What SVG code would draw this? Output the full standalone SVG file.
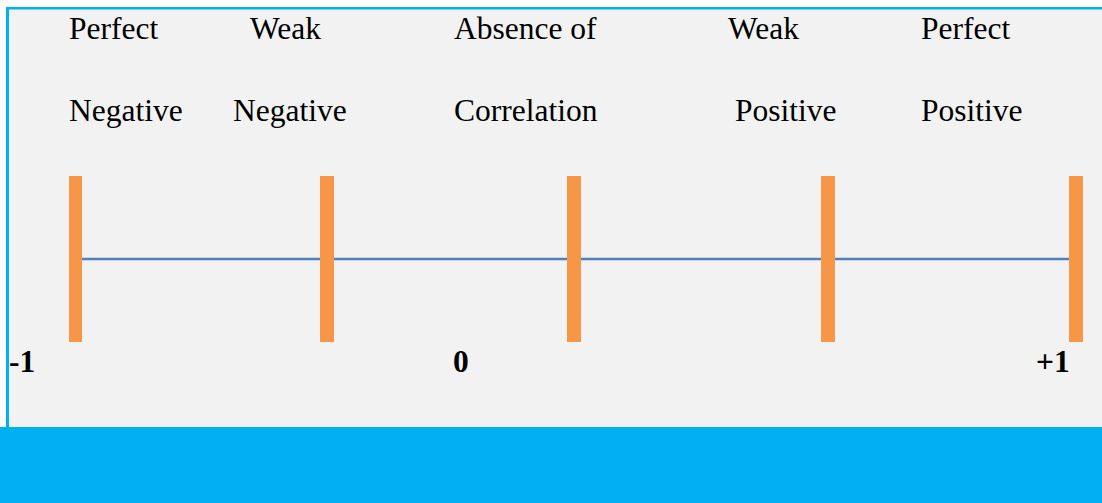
<svg xmlns="http://www.w3.org/2000/svg" width="1102" height="503" viewBox="0 0 1102 503">
<style>
.lbl{font-family:"Liberation Serif","Times New Roman",serif;font-size:31.5px;fill:#000}
.num{font-family:"Liberation Serif","Times New Roman",serif;font-size:31.5px;font-weight:bold;fill:#000}
.bar{fill:#f79646}
</style>
<rect x="0" y="0" width="1102" height="503" fill="#ffffff"/>
<rect x="6" y="7" width="1096" height="420" fill="#f2f2f2"/>
<rect x="6" y="7" width="1096" height="2.5" fill="#00b0f0"/>
<rect x="6" y="7" width="3" height="420" fill="#00b0f0"/>
<rect x="0" y="427" width="1102" height="76" fill="#00b0f0"/>
<g id="connectors">
<line x1="82" y1="259" x2="1069" y2="259" stroke="#4f81bd" stroke-width="2.5"/>
</g>
<g id="perfect-negative">
<rect class="bar" x="69" y="176" width="13" height="166"/>
<text class="lbl" x="69" y="39">Perfect</text>
<text class="lbl" x="69" y="121">Negative</text>
</g>
<g id="weak-negative">
<rect class="bar" x="320" y="176" width="14" height="166"/>
<text class="lbl" x="250" y="39">Weak</text>
<text class="lbl" x="233" y="121">Negative</text>
</g>
<g id="absence">
<rect class="bar" x="567" y="176" width="14" height="166"/>
<text class="lbl" x="454" y="39">Absence of</text>
<text class="lbl" x="454" y="121">Correlation</text>
</g>
<g id="weak-positive">
<rect class="bar" x="821" y="176" width="14" height="166"/>
<text class="lbl" x="728" y="39">Weak</text>
<text class="lbl" x="735" y="121">Positive</text>
</g>
<g id="perfect-positive">
<rect class="bar" x="1069" y="176" width="14" height="166"/>
<text class="lbl" x="921" y="39">Perfect</text>
<text class="lbl" x="921" y="121">Positive</text>
</g>
<g id="scale">
<text class="num" x="9" y="372">-1</text>
<text class="num" x="453" y="372">0</text>
<text class="num" x="1036" y="372">+1</text>
</g>
</svg>
